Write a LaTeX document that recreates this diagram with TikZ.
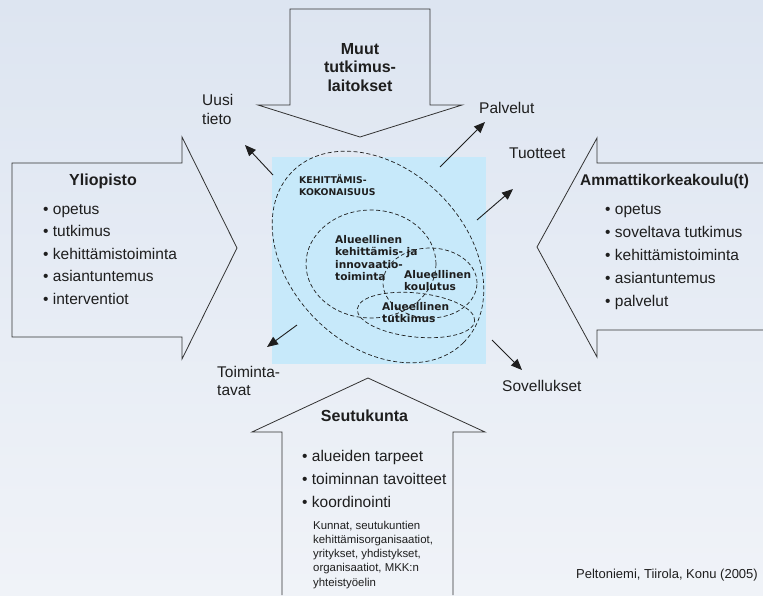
\documentclass[tikz,border=0pt]{standalone}
\usepackage{fontspec}
\setmainfont{Liberation Sans}
\newfontfamily\dejavu{DejaVu Sans}
\usetikzlibrary{arrows.meta,shapes.geometric}
\definecolor{bgtop}{RGB}{221,229,241}
\definecolor{bgbot}{RGB}{240,243,248}
\definecolor{core}{RGB}{199,233,250}
\definecolor{ink}{RGB}{30,30,30}
\definecolor{edge}{RGB}{50,50,50}
\begin{document}
\begin{tikzpicture}[x=1pt,y=-1pt,
  blockarrow/.style={draw=edge,line width=0.8pt,line join=miter},
  outarrow/.style={draw=ink,line width=0.9pt,-{Triangle[length=11pt,width=9pt]}},
  zone/.style={draw=ink,ellipse,inner sep=0pt,line width=0.7pt,dash pattern=on 4pt off 2.5pt},
  headtxt/.style={font=\fontsize{16}{19}\selectfont\bfseries,text=ink,inner sep=0pt,anchor=base},
  headleft/.style={font=\fontsize{15.5}{19}\selectfont\bfseries,text=ink,inner sep=0pt,anchor=base west},
  itemtxt/.style={font=\fontsize{15.5}{22}\selectfont,text=ink,inner sep=0pt,anchor=base west},
  smalltxt/.style={font=\fontsize{11.4}{14}\selectfont,text=ink,inner sep=0pt,anchor=base west},
  credittxt/.style={font=\fontsize{13}{15}\selectfont,text=ink,inner sep=0pt,anchor=base west},
  coretxt/.style={font=\dejavu\bfseries\fontsize{10.6}{12.4}\selectfont,text=ink,inner sep=0pt,anchor=base west},
  coresmall/.style={font=\dejavu\bfseries\fontsize{9.3}{12}\selectfont,text=ink,inner sep=0pt,anchor=base west}]
\useasboundingbox (0,0) rectangle (763,595);
\shade[top color=bgtop,bottom color=bgbot] (0,0) rectangle (763,595);

% central square
\node[fill=core,inner sep=0pt,minimum width=214pt,minimum height=207pt] (hub) at (379,260.5) {};

% dashed zones
\node[zone,minimum width=242pt,minimum height=176pt,rotate=-45] (whole) at (378,257) {};
\node[zone,minimum width=130pt,minimum height=108pt] (innov) at (371,264) {};
\node[zone,minimum width=94pt,minimum height=70pt] (edu) at (430,283) {};
\node[zone,minimum width=118pt,minimum height=44pt,rotate=-6] (res) at (416,315) {};

% zone labels
\node[coresmall] (k1) at (299,183) {KEHITTÄMIS-};
\node[coresmall] (k2) at (299,195) {KOKONAISUUS};
\node[coretxt] (a1) at (335,243) {Alueellinen};
\node[coretxt] (a2) at (335,255.5) {kehittämis- ja};
\node[coretxt] (a3) at (335,268) {innovaatio-};
\node[coretxt] (a4) at (335,280) {toiminta};
\node[coretxt] (b1) at (404,278) {Alueellinen};
\node[coretxt] (b2) at (404,290) {koulutus};
\node[coretxt] (c1) at (382,310) {Alueellinen};
\node[coretxt] (c2) at (382,322.5) {tutkimus};

% block arrows
\draw[blockarrow] (258,105) -- (290,105) -- (290,9) -- (430,9) -- (430,105) -- (462,105) -- (360,137) -- cycle;
\draw[blockarrow] (12,163) -- (182,163) -- (182,137) -- (237,248) -- (182,359) -- (182,337) -- (12,337) -- cycle;
\draw[blockarrow] (763,163) -- (597,163) -- (597,138) -- (537,247) -- (597,357) -- (597,330) -- (763,330);
\draw[blockarrow] (282,595) -- (282,432) -- (252,432) -- (368,378) -- (485,432) -- (453,432) -- (453,595);

% top arrow text
\node[headtxt] (m1) at (360,54) {Muut};
\node[headtxt] (m2) at (360,72.5) {tutkimus-};
\node[headtxt] (m3) at (360,91) {laitokset};

% left arrow text
\node[headtxt] (yo) at (103,185) {Yliopisto};
\foreach \t [count=\i] in {opetus,tutkimus,kehittämistoiminta,asiantuntemus,interventiot}
  \node[itemtxt] (yo\i) at (43,{214+22.5*(\i-1)}) {• \t};

% right arrow text
\node[headleft] (amk) at (580,185) {Ammattikorkeakoulu(t)};
\foreach \t [count=\i] in {opetus,soveltava tutkimus,kehittämistoiminta,asiantuntemus,palvelut}
  \node[itemtxt] (amk\i) at (605,{214+23*(\i-1)}) {• \t};

% bottom arrow text
\node[headtxt] (seu) at (364.5,421) {Seutukunta};
\foreach \t [count=\i] in {alueiden tarpeet,toiminnan tavoitteet,koordinointi}
  \node[itemtxt] (seu\i) at (302,{461+23*(\i-1)}) {• \t};
\foreach \t [count=\i] in {{Kunnat, seutukuntien},{kehittämisorganisaatiot,},{yritykset, yhdistykset,},{organisaatiot, MKK:n},{yhteistyöelin}}
  \node[smalltxt] (ks\i) at (313,{529+14.3*(\i-1)}) {\t};

% output labels
\node[itemtxt] (uusi1) at (202,105) {Uusi};
\node[itemtxt] (uusi2) at (202,124) {tieto};
\node[itemtxt] (palv) at (479,113) {Palvelut};
\node[itemtxt] (tuot) at (509,158) {Tuotteet};
\node[itemtxt] (toim1) at (217,377) {Toiminta-};
\node[itemtxt] (toim2) at (217,395) {tavat};
\node[itemtxt] (sov) at (502,391) {Sovellukset};

% output arrows
\coordinate (uusiS) at (273,175); \coordinate (uusiT) at (245,145);
\coordinate (palvS) at (440,167); \coordinate (palvT) at (485,122);
\coordinate (tuotS) at (477,220); \coordinate (tuotT) at (513,189);
\coordinate (toimS) at (297,325); \coordinate (toimT) at (267,347);
\coordinate (sovS) at (492,340); \coordinate (sovT) at (522,370);
\draw[outarrow] (uusiS) -- (uusiT);
\draw[outarrow] (palvS) -- (palvT);
\draw[outarrow] (tuotS) -- (tuotT);
\draw[outarrow] (toimS) -- (toimT);
\draw[outarrow] (sovS) -- (sovT);

% credit
\node[credittxt] (credit) at (576,578) {Peltoniemi, Tiirola, Konu (2005)};
\end{tikzpicture}
\end{document}
